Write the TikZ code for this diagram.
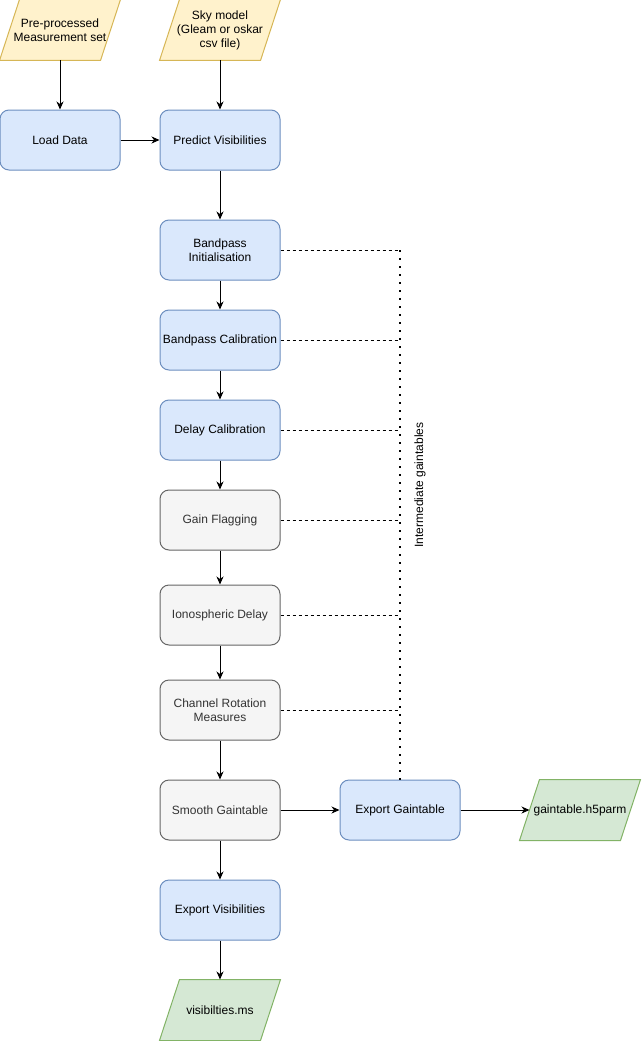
\documentclass[tikz,border=0pt]{standalone}
\usepackage{fontspec}
\setmainfont{Liberation Sans}
\usetikzlibrary{arrows.meta,backgrounds}
\definecolor{yfill}{HTML}{FFF2CC}\definecolor{ydraw}{HTML}{D6B656}
\definecolor{bfill}{HTML}{DAE8FC}\definecolor{bdraw}{HTML}{6C8EBF}
\definecolor{gfill}{HTML}{F5F5F5}\definecolor{gdraw}{HTML}{666666}
\definecolor{gtext}{HTML}{333333}
\definecolor{nfill}{HTML}{D5E8D4}\definecolor{ndraw}{HTML}{82B366}
\begin{document}
\begin{tikzpicture}[x=1pt,y=-1pt,
  font=\fontsize{12}{14}\selectfont,
  base/.style={minimum width=120pt,minimum height=60pt,inner sep=0pt,align=center,line width=1pt},
  bluebox/.style={base,draw=bdraw,fill=bfill,rounded corners=9pt},
  greybox/.style={base,draw=gdraw,fill=gfill,rounded corners=9pt,text=gtext},
  iobox/.style={base},
  flow/.style={line width=1pt,-{Stealth[length=8pt,width=7pt,inset=2.5pt]}},
  link/.style={line width=1pt,dash pattern=on 3pt off 3pt},
  dots/.style={line width=2pt,dash pattern=on 2pt off 6pt}]
\useasboundingbox (0,0) rectangle (641,1041);

% input/output nodes (parallelogram outlines drawn on background)
\node[iobox] (pre) at (60,30) {Pre-processed\\Measurement set};
\node[iobox] (sky) at (220,30) {Sky model\\(Gleam or oskar\\csv file)};
\node[iobox] (h5) at (580,810) {gaintable.h5parm};
\node[iobox] (ms) at (220,1010) {visibilties.ms};
\begin{pgfonlayer}{background}
  \foreach \n/\f/\d in {pre/yfill/ydraw,sky/yfill/ydraw,h5/nfill/ndraw,ms/nfill/ndraw}{
    \filldraw[line width=1pt,fill=\f,draw=\d]
      ([xshift=20pt]\n.north west) -- (\n.north east) -- ([xshift=-20pt]\n.south east) -- (\n.south west) -- cycle;
  }
\end{pgfonlayer}

\node[bluebox] (load) at (60,140) {Load Data};
\node[bluebox] (pred) at (220,140) {Predict Visibilities};
\node[bluebox] (bpi) at (220,250) {Bandpass\\Initialisation};
\node[bluebox] (bpc) at (220,340) {Bandpass Calibration};
\node[bluebox] (dly) at (220,430) {Delay Calibration};
\node[greybox] (gf) at (220,520) {Gain Flagging};
\node[greybox] (iono) at (220,615) {Ionospheric Delay};
\node[greybox] (crm) at (220,710) {Channel Rotation\\Measures};
\node[greybox] (smooth) at (220,810) {Smooth Gaintable};
\node[bluebox] (eg) at (400,810) {Export Gaintable};
\node[bluebox] (ev) at (220,910) {Export Visibilities};

% main flow
\draw[flow] (pre) -- (load);
\draw[flow] (sky) -- (pred);
\draw[flow] (load) -- (pred);
\draw[flow] (pred) -- (bpi);
\draw[flow] (bpi) -- (bpc);
\draw[flow] (bpc) -- (dly);
\draw[flow] (dly) -- (gf);
\draw[flow] (gf) -- (iono);
\draw[flow] (iono) -- (crm);
\draw[flow] (crm) -- (smooth);
\draw[flow] (smooth) -- (eg);
\draw[flow] (eg) -- ([xshift=10pt]h5.west);
\draw[flow] (smooth) -- (ev);
\draw[flow] (ev) -- (ms);

% intermediate gaintables
\coordinate (top) at (bpi.east -| eg.north);
\foreach \n in {bpi,bpc,dly,gf,iono,crm}{
  \draw[link] (\n.east) -- (\n.east -| eg.north);
}
\draw[dots] (top) -- (eg.north);
\node[rotate=90,inner sep=0pt] (lbl) at (420,485) {Intermediate gaintables};
\end{tikzpicture}
\end{document}
